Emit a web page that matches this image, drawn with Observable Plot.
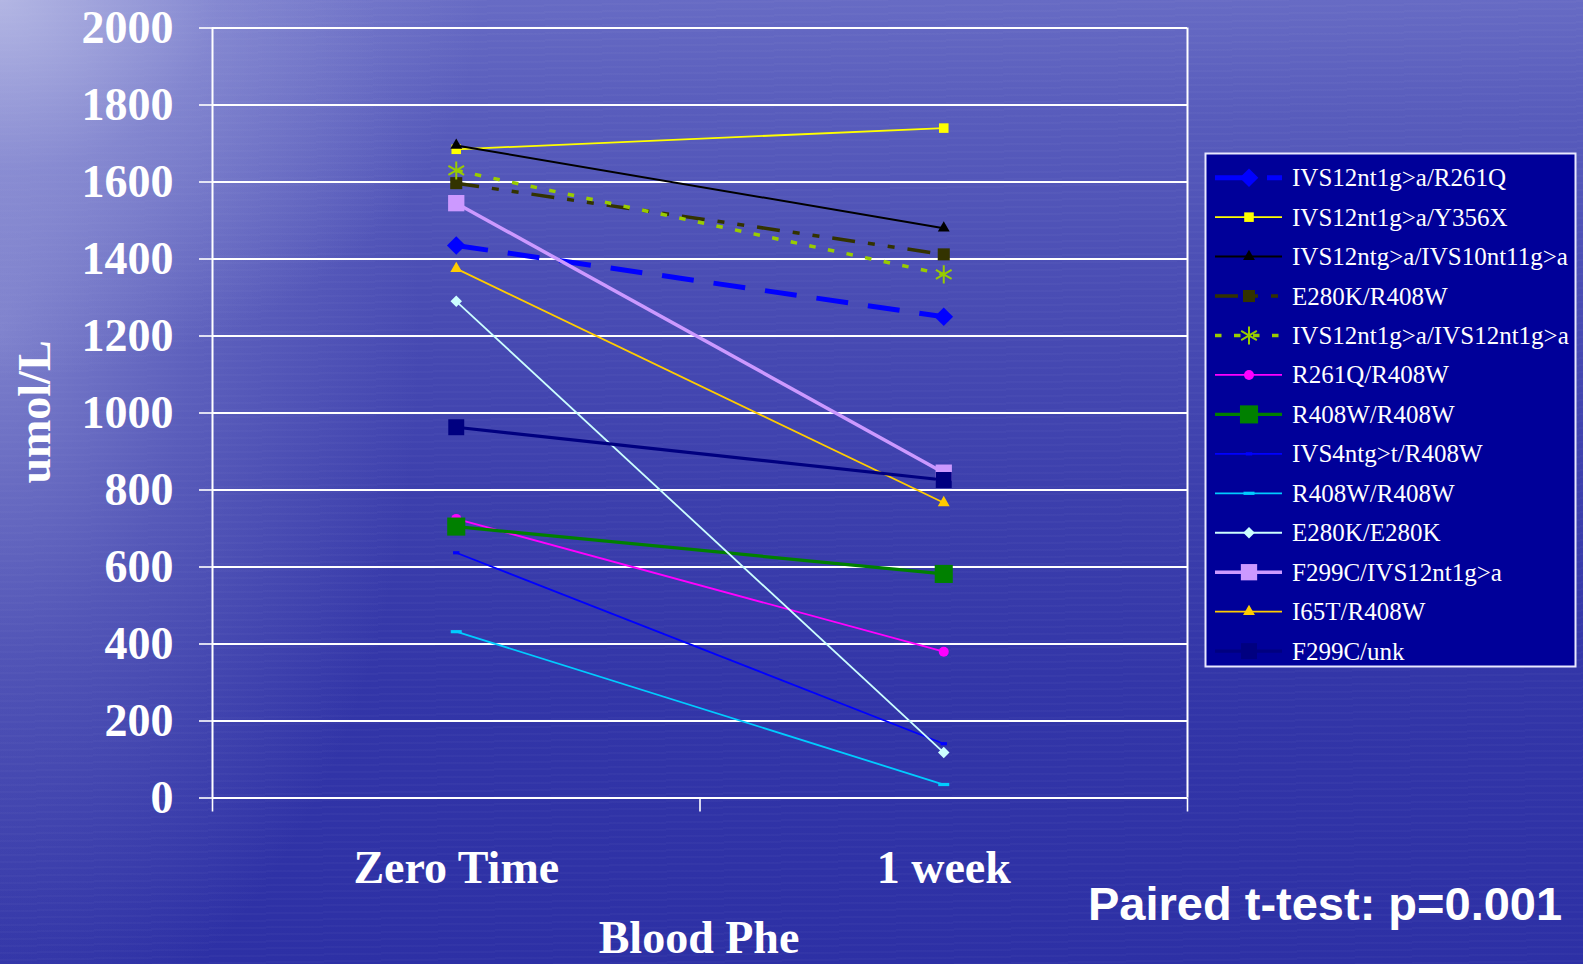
<!DOCTYPE html>
<html>
<head>
<meta charset="utf-8">
<script src="https://cdn.jsdelivr.net/npm/d3@7"></script>
<script src="https://cdn.jsdelivr.net/npm/@observablehq/plot@0.6"></script>
<style>
html, body { margin: 0; padding: 0; width: 1583px; height: 964px; overflow: hidden; }
body {
  position: relative;
  background:
    radial-gradient(ellipse 480px 380px at 0px 0px, rgba(205,208,238,0.7), rgba(175,178,228,0.35) 45%, rgba(175,178,228,0) 100%),
    radial-gradient(ellipse 420px 720px at 0px 330px, rgba(160,163,220,0.6), rgba(150,153,215,0.3) 45%, rgba(150,153,215,0) 100%),
    repeating-linear-gradient(179deg, rgba(255,255,255,0.025) 0px, rgba(255,255,255,0.025) 2px, rgba(0,0,0,0) 2px, rgba(0,0,0,0) 7px),
    linear-gradient(180deg, #676bc4 0%, #585cbc 12%, #4a4db4 30%, #3d40ad 50%, #3336a8 70%, #2d30a5 100%);
}
#chart { position: absolute; left: 0; top: 0; }
#overlay { position: absolute; left: 0; top: 0; pointer-events: none; }
</style>
</head>
<body>
<div id="chart"></div>
<svg id="overlay" width="1583" height="964"></svg>
<script>
// ---------- data ----------
const categories = ["Zero Time", "1 week"];
const seriesNames = [
  "IVS12nt1g>a/R261Q",
  "IVS12nt1g>a/Y356X",
  "IVS12ntg>a/IVS10nt11g>a",
  "E280K/R408W",
  "IVS12nt1g>a/IVS12nt1g>a",
  "R261Q/R408W",
  "R408W/R408W",
  "IVS4ntg>t/R408W",
  "R408W/R408W",
  "E280K/E280K",
  "F299C/IVS12nt1g>a",
  "I65T/R408W",
  "F299C/unk"
];
const zeroTime = [1435, 1685, 1695, 1597, 1630, 725, 705, 637, 432, 1290, 1545, 1375, 963];
const oneWeek  = [1250, 1740, 1480, 1412, 1360, 380, 582, 141, 35, 118, 845, 767, 826];
const yTicks = [0, 200, 400, 600, 800, 1000, 1200, 1400, 1600, 1800, 2000];
const xTitle = "Blood Phe";
const yTitle = "umol/L";
const note = "Paired t-test: p=0.001";

// ---------- styles (separate from data) ----------
const dashSymbol = {
  draw(context, size) {
    const r = Math.sqrt(size / Math.PI);
    context.rect(-r, -1.6, 2 * r, 3.2);
  }
};
const styles = [
  {color: "#0000ff", width: 5,   dash: "32,20",            symbol: "diamond2", r: 8.4,  fill: true},
  {color: "#ffff00", width: 1.8, dash: null,               symbol: "square",   r: 5.4,  fill: true},
  {color: "#000000", width: 2,   dash: null,               symbol: "triangle", r: 4.4,  fill: true},
  {color: "#333300", width: 3.5, dash: "23,13,7,13,7,13",  symbol: "square",   r: 6.8,  fill: true},
  {color: "#99cc00", width: 3.5, dash: "6.5,12.5",         symbol: "asterisk", r: 8.6,  fill: false},
  {color: "#ff00ff", width: 1.8, dash: null,               symbol: "circle",   r: 5.0,  fill: true},
  {color: "#008000", width: 3.2, dash: null,               symbol: "square",   r: 10.2, fill: true},
  {color: "#0000ff", width: 1.8, dash: null,               symbol: dashSymbol, r: 3.2,  fill: true},
  {color: "#00ccff", width: 1.8, dash: null,               symbol: dashSymbol, r: 5.5,  fill: true},
  {color: "#ccffff", width: 1.8, dash: null,               symbol: "diamond2", r: 5.2,  fill: true},
  {color: "#cc99ff", width: 3.5, dash: null,               symbol: "square",   r: 9.2,  fill: true},
  {color: "#ffcc00", width: 1.8, dash: null,               symbol: "triangle", r: 4.4,  fill: true},
  {color: "#000080", width: 3.2, dash: null,               symbol: "square",   r: 9.0,  fill: true}
];

// ---------- table ----------
const rows = [];
seriesNames.forEach((name, s) => {
  [zeroTime[s], oneWeek[s]].forEach((v, i) => {
    rows.push({s, name, category: categories[i], pos: i + 0.5, value: v});
  });
});

const W = 1583, H = 964;
const serif = "'Liberation Serif', 'Times New Roman', serif";

const marks = [
  Plot.gridY({ticks: yTicks, stroke: "white", strokeOpacity: 1, strokeWidth: 2}),
  Plot.ruleX([0, 2], {stroke: "white", strokeWidth: 2}),
  Plot.axisY({ticks: yTicks, tickSize: 13, tickPadding: 26, strokeWidth: 1.6, label: null,
              tickFormat: d => String(d),
              fontSize: 46, fontWeight: "bold", fontFamily: serif}),
  Plot.axisX({ticks: [0, 1, 2], tickSize: 14, strokeWidth: 1.6, tickFormat: () => "", label: null}),
  Plot.axisX({ticks: [0.5, 1.5], tickSize: 0, tickPadding: 52, label: null,
              tickFormat: d => categories[Math.floor(d)],
              fontSize: 46, fontWeight: "bold", fontFamily: serif})
];
styles.forEach((st, s) => {
  const data = rows.filter(d => d.s === s);
  marks.push(Plot.line(data, {x: "pos", y: "value", stroke: st.color, strokeWidth: st.width,
    strokeDasharray: st.dash || undefined, strokeLinecap: "butt"}));
  marks.push(Plot.dot(data, {x: "pos", y: "value", symbol: st.symbol, r: st.r,
    fill: st.fill ? st.color : "none", stroke: st.fill ? "none" : st.color,
    strokeWidth: st.fill ? 0 : 2}));
});

const chart = Plot.plot({
  width: W, height: H,
  marginLeft: 212, marginRight: W - 1187, marginTop: 27.5, marginBottom: H - 797.5,
  x: {type: "linear", domain: [0, 2]},
  y: {domain: [0, 2000]},
  style: {background: "transparent", color: "white", fontFamily: serif, fontSize: "46px", overflow: "visible"},
  marks
});
document.getElementById("chart").appendChild(chart);

// ---------- overlay: titles, note and legend ----------
const ov = d3.select("#overlay");
ov.append("text").attr("transform", "translate(50,412) rotate(-90)")
  .attr("text-anchor", "middle").attr("fill", "white")
  .attr("font-family", serif).attr("font-weight", "bold").attr("font-size", 46)
  .text(yTitle);
ov.append("text").attr("x", 699).attr("y", 953)
  .attr("text-anchor", "middle").attr("fill", "white")
  .attr("font-family", serif).attr("font-weight", "bold").attr("font-size", 46)
  .text(xTitle);
ov.append("text").attr("x", 1088).attr("y", 920)
  .attr("fill", "white")
  .attr("font-family", "'Liberation Sans', Arial, sans-serif").attr("font-weight", "bold").attr("font-size", 47)
  .text(note);

const lg = ov.append("g");
lg.append("rect").attr("x", 1205.5).attr("y", 153.5).attr("width", 370).attr("height", 513)
  .attr("fill", "#000099").attr("stroke", "#e8e8ff").attr("stroke-width", 2);
const symMap = {
  diamond2: d3.symbolDiamond2, square: d3.symbolSquare, triangle: d3.symbolTriangle,
  asterisk: d3.symbolAsterisk, circle: d3.symbolCircle
};
seriesNames.forEach((name, s) => {
  const st = styles[s];
  const cy = 177.7 + s * 39.45;
  lg.append("line").attr("x1", 1215).attr("x2", 1282).attr("y1", cy).attr("y2", cy)
    .attr("stroke", st.color).attr("stroke-width", st.width)
    .attr("stroke-dasharray", st.dash);
  const type = typeof st.symbol === "string" ? symMap[st.symbol] : st.symbol;
  lg.append("path").attr("transform", `translate(1249,${cy})`)
    .attr("d", d3.symbol(type, Math.PI * st.r * st.r)())
    .attr("fill", st.fill ? st.color : "none")
    .attr("stroke", st.fill ? "none" : st.color).attr("stroke-width", st.fill ? 0 : 2);
  lg.append("text").attr("x", 1292).attr("y", cy + 8.5)
    .attr("fill", "white").attr("font-family", serif).attr("font-size", 25)
    .text(name);
});
</script>
</body>
</html>
